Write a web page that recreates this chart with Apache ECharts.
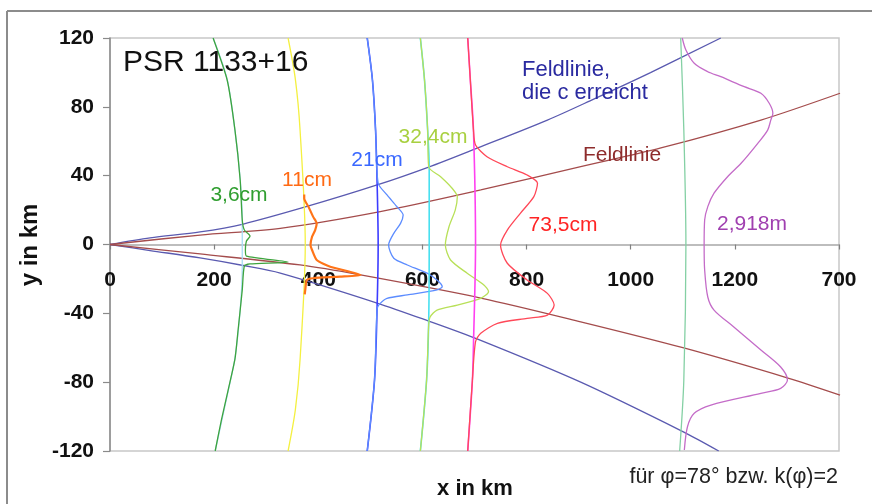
<!DOCTYPE html>
<html>
<head>
<meta charset="utf-8">
<script src="https://cdn.jsdelivr.net/npm/echarts@6/dist/echarts.min.js"></script>
<style>
  html, body { margin: 0; padding: 0; background: #ffffff; }
  #chart { width: 872px; height: 504px; }
</style>
</head>
<body>
<div id="chart"></div>
<script>
// Tick labels of the x axis (km); the last one is printed as in the original figure
const xTickLabels = ['0', '200', '400', '600', '800', '1000', '1200', '700'];

// Field line that reaches the light cylinder (upper and lower branch), [x km, y km]
const fieldLineCUpper = [[0,0],[77,3.8],[173,7.3],[256,11.9],[375,21.8],[513,34.6],[612,45.0],[706,56.1],[840,72.3],[929,84.5],[1038,99.9],[1173,120]];
const fieldLineCLower = [[0,0],[77,-3.5],[173,-7.8],[256,-12.2],[327,-16.6],[513,-34.0],[612,-44.5],[706,-55.0],[904,-80.0],[1102,-109],[1169,-120]];

// Ordinary field line (upper and lower branch)
const fieldLineUpper = [[0,0],[173,5.5],[327,9.4],[519,19.1],[712,31.7],[904,45.2],[1058,56.1],[1250,72.3],[1402,87.9]];
const fieldLineLower = [[0,0],[173,-5.5],[365,-11.9],[481,-17.7],[712,-31.1],[904,-44.9],[1102,-60.1],[1302,-77.6],[1402,-87.5]];

// 3,6 cm: emission height and profile
const h36Base = [[198,120],[225,96],[240,66],[250,38],[254,14],[254,0],[254,-14],[250,-38],[240,-66],[227,-85],[202,-120]];
const h36Profile = [[198,120],[225,95.6],[240,66.5],[250,37.5],[254,14.2],[258,8.4],[269,4.9],[262,2.0],[260,-3.2],[262,-6.7],[342,-10.2],[269,-11.3],[258,-12.5],[254,-26.4],[246,-49.7],[240,-66.5],[227,-84.5],[214,-101.9],[202,-120]];

// 11 cm
const h11Base = [[342,120],[356,96],[365,66.5],[375,0],[365,-67],[356,-96],[342,-120]];
const h11Profile = [[373,29],[373,26.8],[381,22],[390,16.2],[397,12.3],[394,8.4],[388,4.5],[385,-0.3],[388,-3.2],[397,-9],[423,-12.9],[481,-17.7],[442,-18.7],[390,-19.6],[378,-20.6],[375,-26.4],[374,-29]];

// 21 cm
const h21Base = [[494,120],[504,95.6],[510,66.5],[513,35.7],[515,0],[513,-35.7],[508,-78.7],[494,-120]];
const h21Profile = [[494,120],[504,95.6],[510,66.5],[515,35.6],[532,28.8],[551,22.0],[563,17.1],[558,12.3],[545,6.5],[535,-0.3],[545,-8.0],[571,-11.9],[615,-17.7],[638,-24.5],[628,-26.4],[571,-29.3],[532,-31.3],[519,-34.2],[513,-37.1],[508,-78.7],[494,-120]];

// 32,4 cm
const h324Base = [[596,120],[604,95.6],[610,66.5],[613,45],[613,0],[612,-45],[608,-78.7],[596,-120]];
const h324Profile = [[596,120],[604,95.6],[610,66.5],[612,45.2],[635,39.4],[657,32.7],[667,27.8],[663,20.0],[651,10.3],[644,-0.3],[654,-9.0],[686,-16.7],[718,-23.5],[727,-27.4],[712,-31.3],[667,-35.2],[628,-38.1],[615,-42.0],[612,-46.8],[608,-78.7],[596,-120]];

// 73,5 cm
const h735Base = [[687,120],[692,95.6],[698,66.5],[702,0],[698,-58.4],[696,-78.7],[687,-120]];
const h735Profile = [[687,120],[692,95.6],[698,66.5],[702,57.8],[724,51.0],[763,45.2],[801,40.4],[821,35.6],[814,27.8],[788,18.1],[763,8.4],[750,-0.3],[763,-10.9],[801,-20.6],[840,-28.4],[853,-35.2],[840,-41.0],[801,-42.9],[744,-45.8],[712,-51.6],[702,-56.5],[696,-78.7],[687,-120]];

// 2,918 m
const h2918Base = [[1096,120],[1102,66.5],[1106,0],[1102,-78.7],[1094,-120]];
const h2918Profile = [[1099,120],[1106,113],[1122,105.3],[1148,100.4],[1173,97.5],[1218,91.7],[1250,87.9],[1266,82.1],[1273,76.2],[1269,72.3],[1263,66.5],[1244,58.8],[1212,47.2],[1186,39.4],[1160,29.8],[1148,22.0],[1142,14.2],[1141,-0.3],[1142,-14.8],[1148,-30.5],[1160,-38.1],[1198,-47.9],[1250,-61.3],[1288,-71.2],[1301,-78.7],[1288,-83.6],[1250,-86.5],[1154,-93.3],[1122,-98.1],[1109,-105.9],[1103,-119.4]];

const FONT = '"Liberation Sans", Arial, Helvetica, sans-serif';

// plot area in pixels
const GRID = { left: 110, right: 33, top: 38, bottom: 53 };
const PLOT_H = 504 - GRID.top - GRID.bottom;

function curve(name, data, color, width, smooth) {
  return {
    name: name,
    type: 'line',
    data: data,
    showSymbol: false,
    symbol: 'none',
    smooth: smooth,
    silent: true,
    animation: false,
    lineStyle: { color: color, width: width }
  };
}

function label(text, x, y, color, size, opts) {
  opts = opts || {};
  return {
    type: 'text',
    x: x,
    y: y,
    rotation: opts.rotation || 0,
    silent: true,
    z: 100,
    style: {
      text: text,
      fill: color,
      font: (opts.weight || 'normal') + ' ' + size + 'px ' + FONT,
      textAlign: opts.align || 'center',
      align: opts.align || 'center',
      textVerticalAlign: 'middle',
      verticalAlign: 'middle'
    }
  };
}

const chart = echarts.init(document.getElementById('chart'), null, { renderer: 'canvas' });

chart.setOption({
  animation: false,
  backgroundColor: '#ffffff',
  grid: {
    left: GRID.left, right: GRID.right, top: GRID.top, bottom: GRID.bottom,
    show: true,
    borderColor: '#c8c8c8',
    borderWidth: 1.5,
    backgroundColor: 'transparent'
  },
  xAxis: {
    type: 'value',
    min: 0,
    max: 1400,
    interval: 200,
    position: 'bottom',
    // the x axis runs along y = 0, half way up the plot
    offset: -PLOT_H / 2,
    axisLine: { show: true, onZero: false, lineStyle: { color: '#a8a8a8', width: 1.5 } },
    axisTick: { show: true, inside: false, length: 5, lineStyle: { color: '#808080', width: 1.2 } },
    splitLine: { show: false },
    axisLabel: {
      margin: 25,
      color: '#111111',
      fontFamily: FONT,
      fontWeight: 'bold',
      fontSize: 21,
      formatter: function (v, i) { return xTickLabels[i]; }
    }
  },
  yAxis: {
    type: 'value',
    min: -120,
    max: 120,
    interval: 40,
    axisLine: { show: true, onZero: false, lineStyle: { color: '#8a8a8a', width: 1.5 } },
    axisTick: { show: true, inside: false, length: 7, lineStyle: { color: '#8a8a8a', width: 1.2 } },
    splitLine: { show: false },
    axisLabel: {
      margin: 16,
      color: '#111111',
      fontFamily: FONT,
      fontWeight: 'bold',
      fontSize: 21
    }
  },
  series: [
    curve('Feldlinie c oben', fieldLineCUpper, '#5a5ab0', 1.3, 0.3),
    curve('Feldlinie c unten', fieldLineCLower, '#5a5ab0', 1.3, 0.3),
    curve('Feldlinie oben', fieldLineUpper, '#a44c4c', 1.3, 0.3),
    curve('Feldlinie unten', fieldLineLower, '#a44c4c', 1.3, 0.3),
    curve('3,6cm Höhe', h36Base, '#a8dcf4', 1.3, 0.3),
    curve('3,6cm', h36Profile, '#3ea43e', 1.3, 0.2),
    curve('11cm Höhe', h11Base, '#f4f040', 1.3, 0.3),
    curve('11cm', h11Profile, '#ff7418', 2.2, 0.2),
    curve('21cm Höhe', h21Base, '#3c3cff', 1.6, 0.3),
    curve('21cm', h21Profile, '#5c8cff', 1.3, 0.25),
    curve('32,4cm Höhe', h324Base, '#48e0f0', 1.6, 0.3),
    curve('32,4cm', h324Profile, '#b8e058', 1.3, 0.25),
    curve('73,5cm Höhe', h735Base, '#ff40f0', 1.6, 0.3),
    curve('73,5cm', h735Profile, '#ff4858', 1.3, 0.25),
    curve('2,918m Höhe', h2918Base, '#84d0a4', 1.3, 0.3),
    curve('2,918m', h2918Profile, '#c46cc8', 1.3, 0.3)
  ],
  graphic: [
    // outer frame of the figure
    { type: 'line', silent: true, shape: { x1: 7, y1: 11, x2: 872, y2: 11 }, style: { stroke: '#8c8c8c', lineWidth: 2 } },
    { type: 'line', silent: true, shape: { x1: 7, y1: 11, x2: 7, y2: 504 }, style: { stroke: '#8c8c8c', lineWidth: 2 } },

    label('PSR 1133+16', 123, 63, '#111111', 30, { align: 'left' }),
    label('Feldlinie,', 522, 70, '#2a2aa0', 22, { align: 'left' }),
    label('die c erreicht', 522, 93, '#2a2aa0', 22, { align: 'left' }),
    label('Feldlinie', 622, 155, '#8e2c2c', 21),
    label('3,6cm', 239, 195, '#2f9e2f', 21),
    label('11cm', 307, 180, '#ff6a14', 21),
    label('21cm', 377, 160, '#3a68ff', 21),
    label('32,4cm', 433, 137, '#a8d040', 21),
    label('73,5cm', 563, 225, '#ff2424', 21),
    label('2,918m', 752, 224, '#a040b0', 21),
    label('für \u03c6=78° bzw. k(\u03c6)=2', 838, 477, '#222222', 21.5, { align: 'right' }),
    label('x in km', 475, 489, '#111111', 22, { weight: 'bold' }),
    label('y in km', 30, 245, '#111111', 24, { weight: 'bold', rotation: Math.PI / 2 })
  ]
});
</script>
</body>
</html>
